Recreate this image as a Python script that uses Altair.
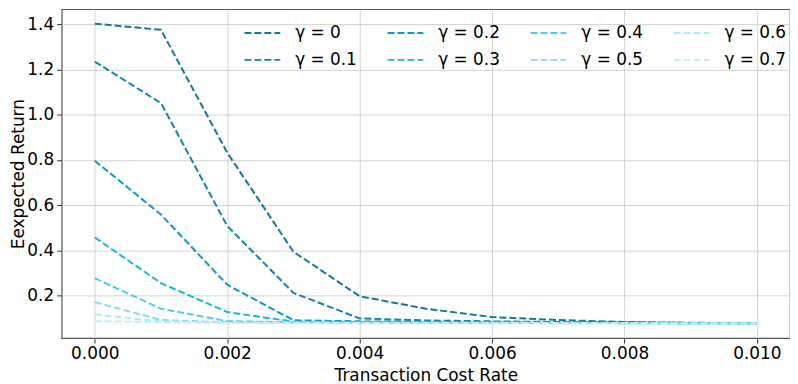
import altair as alt
import pandas as pd

rates = [0.000, 0.001, 0.002, 0.003, 0.004, 0.005, 0.006, 0.007, 0.008, 0.009, 0.010]
gammas = ["γ = 0", "γ = 0.1", "γ = 0.2", "γ = 0.3", "γ = 0.4", "γ = 0.5", "γ = 0.6", "γ = 0.7"]
g0 = [1.402, 1.375, 0.832, 0.394, 0.197, 0.142, 0.105, 0.092, 0.083, 0.080, 0.077]
g1 = [1.234, 1.051, 0.508, 0.212, 0.099, 0.090, 0.086, 0.083, 0.081, 0.079, 0.077]
g2 = [0.796, 0.558, 0.248, 0.091, 0.086, 0.084, 0.082, 0.080, 0.079, 0.078, 0.077]
g3 = [0.457, 0.255, 0.127, 0.085, 0.083, 0.082, 0.081, 0.080, 0.079, 0.078, 0.077]
g4 = [0.277, 0.142, 0.087, 0.082, 0.081, 0.080, 0.080, 0.079, 0.078, 0.078, 0.077]
g5 = [0.171, 0.092, 0.082, 0.081, 0.080, 0.080, 0.079, 0.079, 0.078, 0.077, 0.077]
g6 = [0.117, 0.085, 0.080, 0.080, 0.079, 0.079, 0.079, 0.078, 0.078, 0.077, 0.076]
g7 = [0.087, 0.082, 0.079, 0.079, 0.079, 0.078, 0.078, 0.078, 0.077, 0.077, 0.076]
colors = ["#137a99", "#0e87a8", "#0a9acb", "#12b8ec", "#4ccdf5", "#86dcf6", "#a6f1f7", "#cdeaf5"]

series = [g0, g1, g2, g3, g4, g5, g6, g7]
rows = []
for gi, (name, vals) in enumerate(zip(gammas, series)):
    for r, v in zip(rates, vals):
        rows.append({"rate": r, "ret": v, "gamma": name, "order": gi})
df = pd.DataFrame(rows)

font = "DejaVu Sans"

chart = alt.Chart(df).mark_line(strokeDash=[7, 3], strokeWidth=2, clip=True).encode(
    x=alt.X("rate:Q",
            scale=alt.Scale(domain=[-0.0005, 0.0105], nice=False, zero=False),
            axis=alt.Axis(values=[0, 0.002, 0.004, 0.006, 0.008, 0.010], format=".3f",
                          title="Transaction Cost Rate", labelFlush=False)),
    y=alt.Y("ret:Q",
            scale=alt.Scale(domain=[0.012, 1.466], nice=False, zero=False),
            axis=alt.Axis(values=[0.2, 0.4, 0.6, 0.8, 1.0, 1.2, 1.4], format=".1f",
                          title="Eexpected Return", labelFlush=False,
                          titleX=-43, titleBaseline="middle")),
    color=alt.Color("gamma:N",
                    scale=alt.Scale(domain=gammas, range=colors),
                    legend=alt.Legend(title=None, orient="none", legendX=183, legendY=5,
                                      columns=4, direction="vertical",
                                      symbolType="stroke", symbolDash=[7, 3],
                                      symbolStrokeWidth=2, symbolSize=1296,
                                      labelFont=font, labelFontSize=17, labelColor="#000",
                                      labelOffset=14, columnPadding=26, rowPadding=-3,
                                      padding=0)),
    detail="order:O",
).properties(
    width=733, height=331,
    autosize=alt.AutoSizeParams(type="none"),
    padding={"left": 54, "top": 0, "right": 0, "bottom": 48},
).configure_axis(
    labelFont=font, labelFontSize=17, labelColor="#000",
    titleFont=font, titleFontSize=17, titleColor="#000", titleFontWeight="normal",
    grid=True, gridColor="#cfcfcf", gridWidth=0.9,
    domain=False, tickColor="#333", tickSize=5, tickWidth=1, labelPadding=3,
).configure_axisX(titlePadding=6).configure_view(
    stroke="#555", strokeWidth=1.2
)

chart.save("out.html", embed_options={"renderer": "svg", "actions": False})
